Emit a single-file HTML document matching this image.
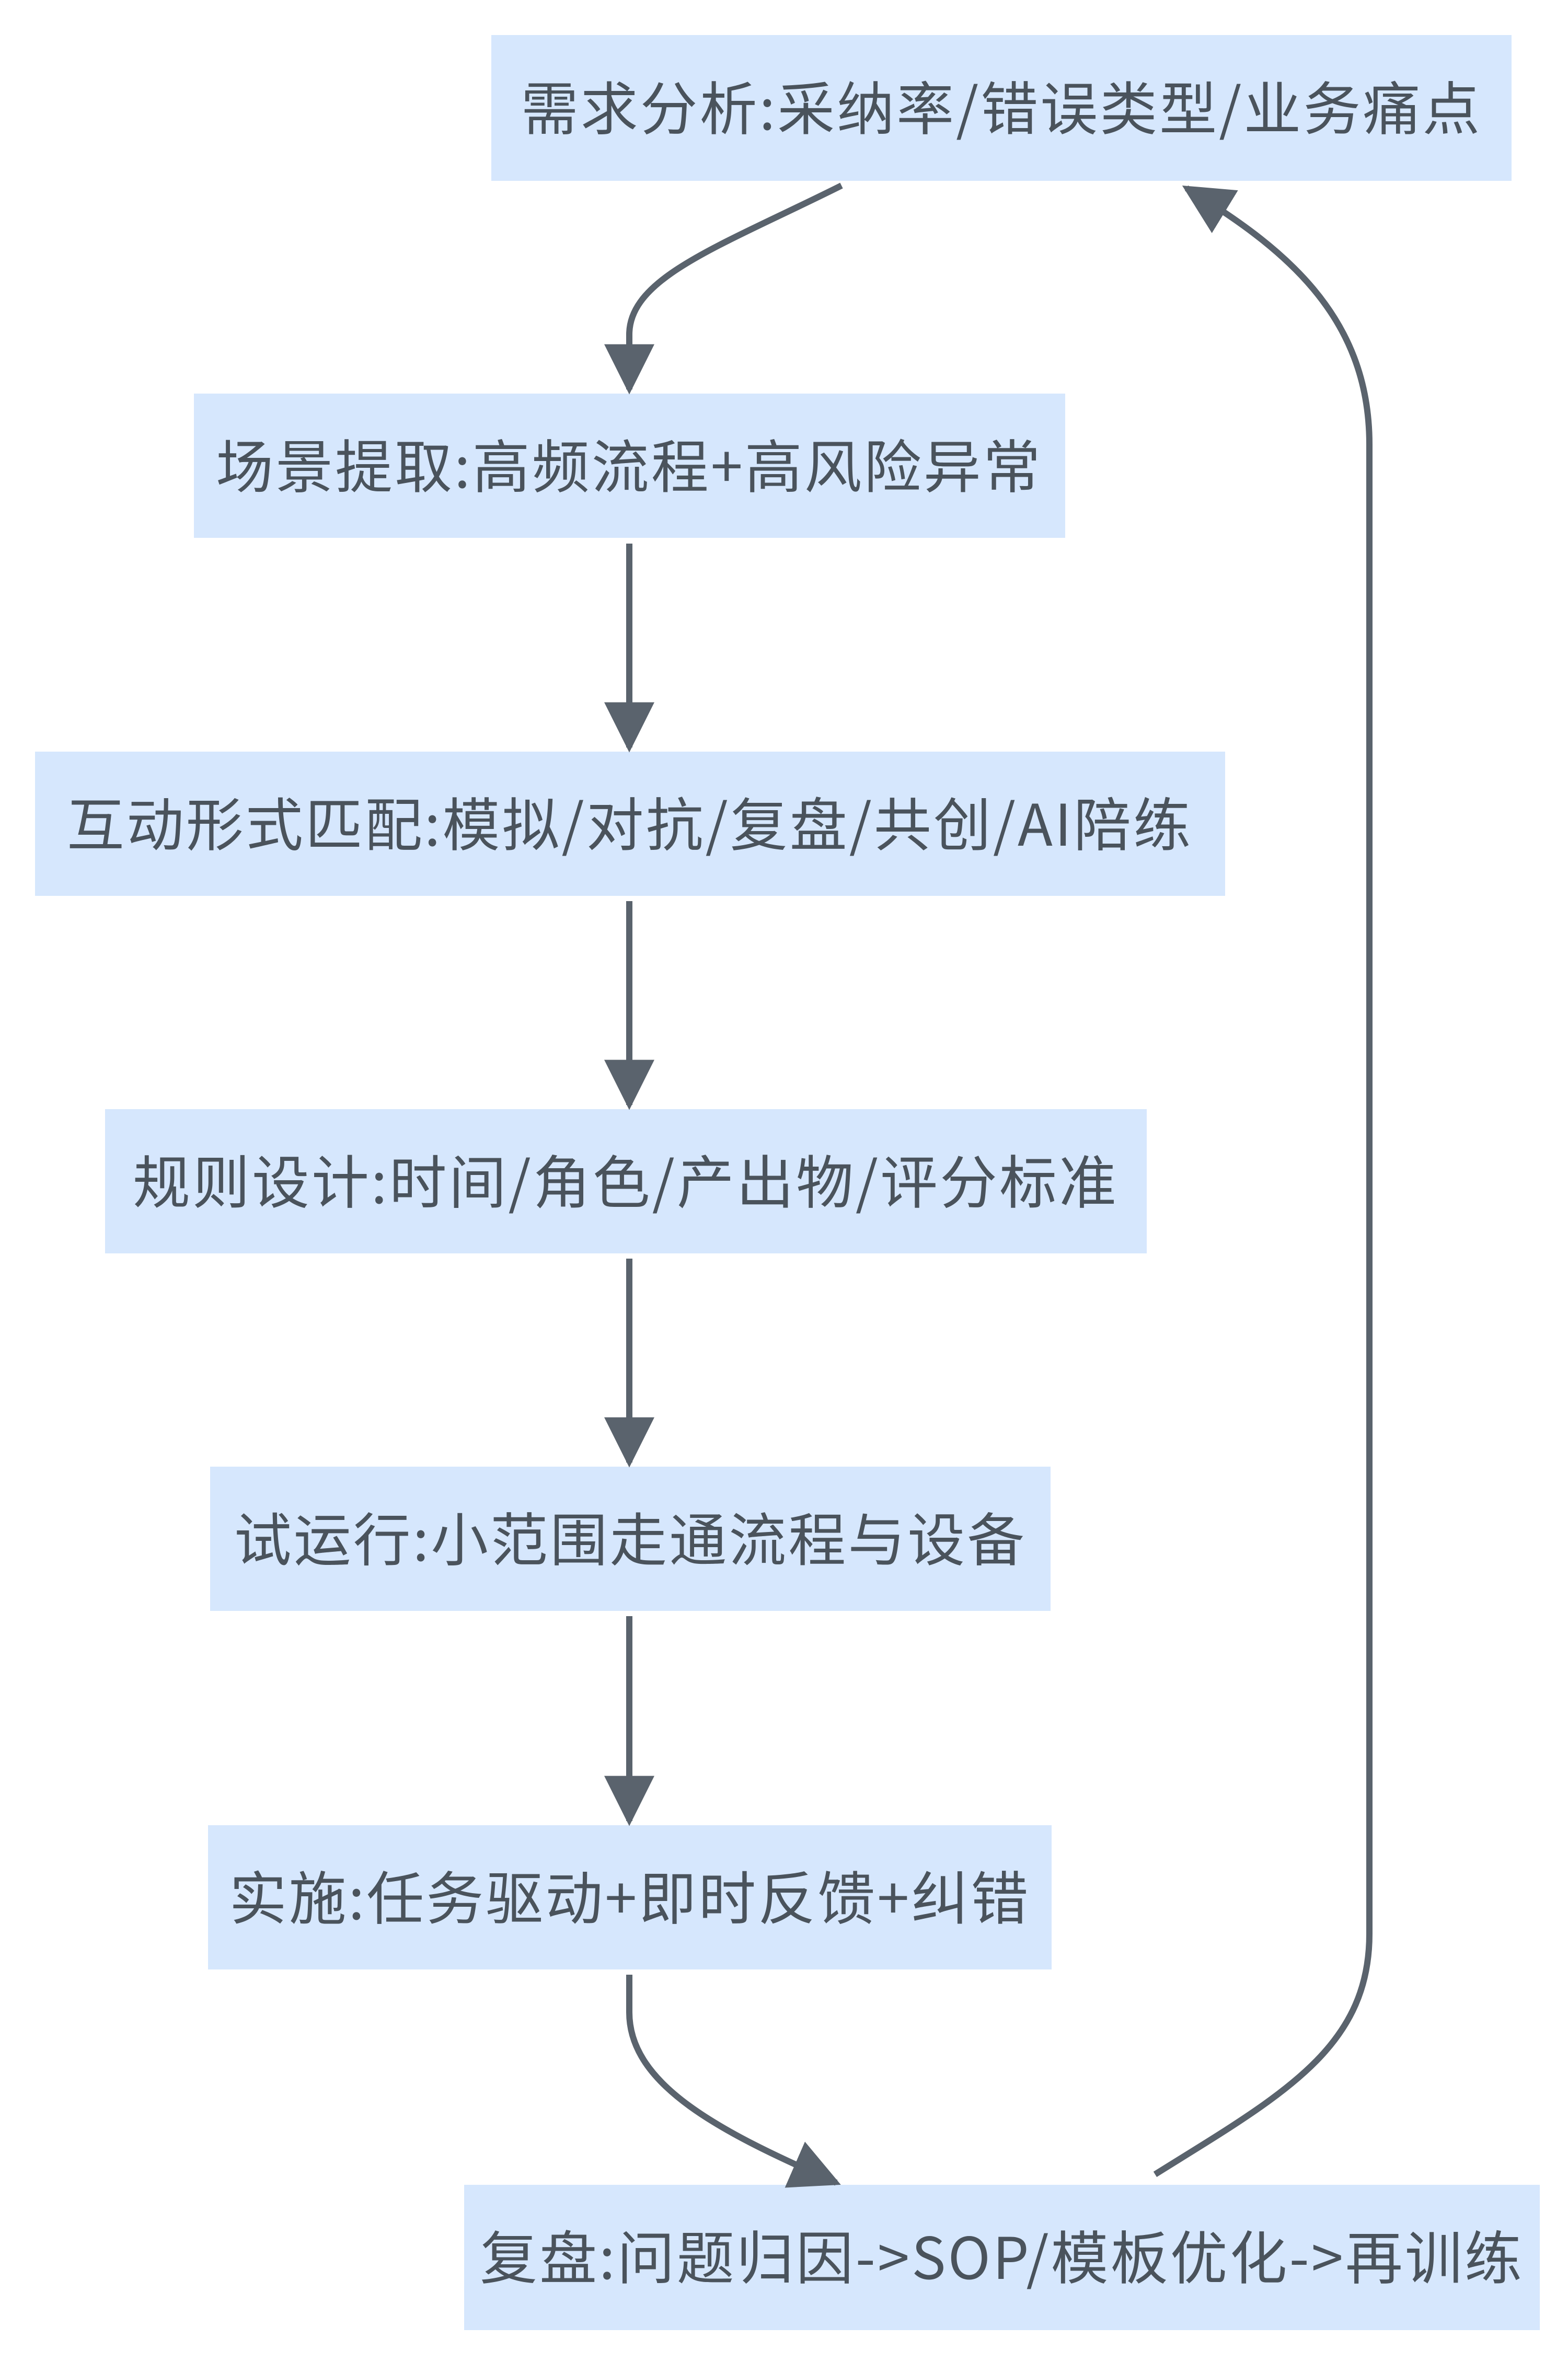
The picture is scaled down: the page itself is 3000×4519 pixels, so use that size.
<!DOCTYPE html>
<html><head><meta charset="utf-8"><style>
html,body{margin:0;padding:0;background:#fff;}
svg{display:block;}
text{font-family:"Noto Sans CJK SC","Liberation Sans",sans-serif;font-size:110px;fill:#4a535c;letter-spacing:4px;}
</style></head><body>
<svg width="3000" height="4519" viewBox="0 0 3000 4519" xmlns="http://www.w3.org/2000/svg">
<defs>
<marker id="a" viewBox="0 0 10 10" refX="9" refY="5" markerUnits="userSpaceOnUse" markerWidth="96" markerHeight="96" orient="auto">
<path d="M0,0 L10,5 L0,10 z" fill="#5a636d"/>
</marker>
</defs>
<g fill="#d6e7fd">
<rect x="940" y="67" width="1952" height="279"/>
<rect x="371" y="753" width="1667" height="276"/>
<rect x="67" y="1438" width="2277" height="276"/>
<rect x="201" y="2122" width="1993" height="276"/>
<rect x="402" y="2806" width="1608" height="276"/>
<rect x="398" y="3492" width="1614" height="276"/>
<rect x="888" y="4180" width="2058" height="278"/>
</g>
<g fill="none" stroke="#5a636d" stroke-width="12">
<path d="M1610,355 C1380,470 1204,530 1204,640 L1204,745" marker-end="url(#a)"/>
<path d="M1204,1040 L1204,1430" marker-end="url(#a)"/>
<path d="M1204,1724 L1204,2114" marker-end="url(#a)"/>
<path d="M1204,2408 L1204,2798" marker-end="url(#a)"/>
<path d="M1204,3092 L1204,3484" marker-end="url(#a)"/>
<path d="M1204,3778 L1204,3850 C1204,3990 1380,4080 1600,4176" marker-end="url(#a)"/>
<path d="M2210,4160 C2450,4010 2620,3920 2620,3700 L2620,850 C2620,600 2450,470 2270,360" marker-end="url(#a)"/>
</g>
<g text-anchor="middle" dominant-baseline="central">
<text x="1916" y="200">需求分析:采纳率/错误类型/业务痛点</text>
<text x="1204" y="885">场景提取:高频流程+高风险异常</text>
<text x="1205" y="1570">互动形式匹配:模拟/对抗/复盘/共创/AI陪练</text>
<text x="1197" y="2254">规则设计:时间/角色/产出物/评分标准</text>
<text x="1206" y="2938">试运行:小范围走通流程与设备</text>
<text x="1205" y="3624">实施:任务驱动+即时反馈+纠错</text>
<text x="1917" y="4312">复盘:问题归因-&gt;SOP/模板优化-&gt;再训练</text>
</g>
</svg>
</body></html>
